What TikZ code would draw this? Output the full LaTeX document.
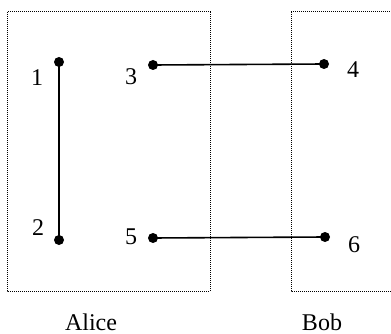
\documentclass[tikz,border=0pt]{standalone}
\usepackage{fontspec}
\setmainfont{Liberation Serif}
\begin{document}
\begin{tikzpicture}[x=1pt,y=-1pt,
  dot/.style={circle,fill=black,inner sep=0pt,minimum size=10pt},
  lbl/.style={font=\fontsize{24}{26}\selectfont,inner sep=0pt},
  party/.style={draw=black,densely dotted,line width=1pt},
  wire/.style={line width=1.6pt}]
\useasboundingbox (0,0) rectangle (391,334);
\draw[party] (7,12) rectangle (210,291);
\draw[party] (291,12) -- (391,12) (291,12) -- (291,291) -- (391,291);
\node[dot] (n1) at (59,62) {};
\node[dot] (n2) at (59,240) {};
\node[dot] (n3) at (153,65) {};
\node[dot] (n5) at (153,238) {};
\node[dot] (n4) at (324,64) {};
\node[dot] (n6) at (325,237) {};
\draw[wire] (n1.center) -- (n2.center);
\draw[wire] (n3.center) -- (n4.center);
\draw[wire] (n5.center) -- (n6.center);
\node[lbl] (l1) at (37,78) {1};
\node[lbl] (l2) at (38,228) {2};
\node[lbl] (l3) at (131,77) {3};
\node[lbl] (l5) at (131,237) {5};
\node[lbl] (l4) at (353,70) {4};
\node[lbl] (l6) at (354,245) {6};
\node[lbl] (alice) at (91,322) {Alice};
\node[lbl] (bob) at (322,322) {Bob};
\end{tikzpicture}
\end{document}
